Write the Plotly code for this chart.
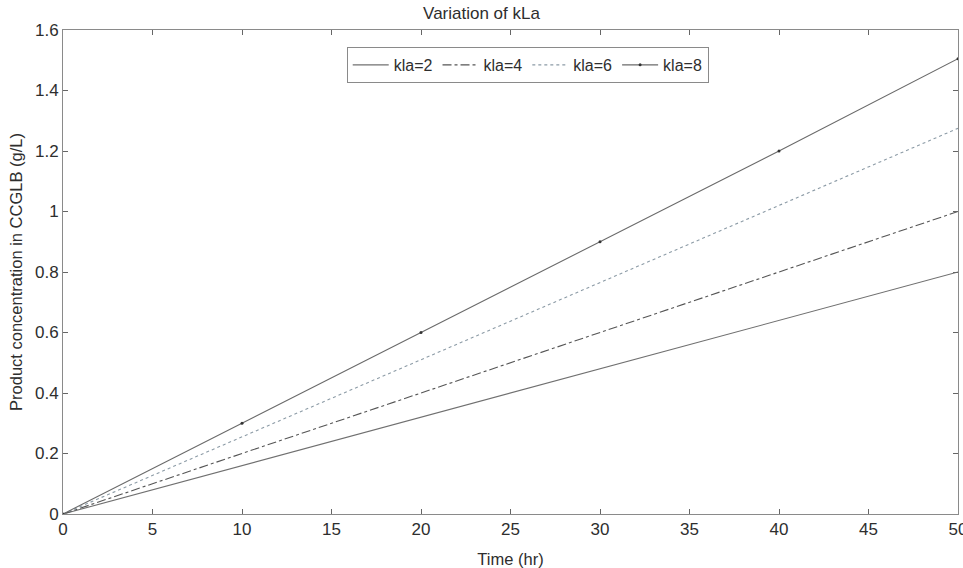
import plotly.graph_objects as go

# Time points (hr) and product concentration in CCGLB (g/L) for each kLa
time_hr = [0, 10, 20, 30, 40, 50]
kla2 = [0, 0.16, 0.32, 0.48, 0.64, 0.80]
kla4 = [0, 0.20, 0.40, 0.60, 0.80, 1.00]
kla6 = [0, 0.255, 0.51, 0.765, 1.02, 1.275]
kla8 = [0, 0.30, 0.60, 0.90, 1.20, 1.505]

x_ticks = [0, 5, 10, 15, 20, 25, 30, 35, 40, 45, 50]
y_ticks = [0, 0.2, 0.4, 0.6, 0.8, 1, 1.2, 1.4, 1.6]

font = "Liberation Sans, Arial, sans-serif"
text_color = "#2e2e2e"

fig = go.Figure()
fig.add_trace(go.Scatter(x=time_hr, y=kla2, name="kla=2", mode="lines",
                         line=dict(color="#707070", width=1.1, dash="solid")))
fig.add_trace(go.Scatter(x=time_hr, y=kla4, name="kla=4", mode="lines",
                         line=dict(color="#555555", width=1.1, dash="dashdot")))
fig.add_trace(go.Scatter(x=time_hr, y=kla6, name="kla=6", mode="lines",
                         line=dict(color="#8c9ba6", width=1.1, dash="dot")))
fig.add_trace(go.Scatter(x=time_hr, y=kla8, name="kla=8", mode="lines+markers",
                         line=dict(color="#6a6a6a", width=1.1, dash="solid"),
                         marker=dict(color="#333333", size=3, symbol="circle")))

axis_common = dict(
    showgrid=False, zeroline=False, showline=True, linecolor="#8a8a8a",
    linewidth=1, mirror="ticks", ticks="inside", ticklen=5, automargin=False,
    tickcolor="#666666", tickfont=dict(family=font, size=17, color=text_color),
)

fig.update_layout(
    width=963, height=568,
    margin=dict(l=63, r=5, t=30, b=54, autoexpand=False),
    paper_bgcolor="white", plot_bgcolor="white",
    title=dict(text="Variation of kLa", x=0.5, xanchor="center",
               y=1 - 13 / 568, yanchor="middle",
               font=dict(family=font, size=17, color=text_color)),
    xaxis=dict(range=[0, 50], tickvals=x_ticks, ticktext=[str(v) for v in x_ticks],
               ticklabeloverflow="allow",
               title=dict(text="Time (hr)", standoff=18,
                          font=dict(family=font, size=16.5, color=text_color)),
               **axis_common),
    yaxis=dict(range=[0, 1.6], tickvals=y_ticks, ticktext=[f"{v:g}" for v in y_ticks],
               title=dict(text="Product concentration in CCGLB (g/L)", standoff=8,
                          font=dict(family=font, size=16.5, color=text_color)),
               **axis_common),
    legend=dict(orientation="h", x=0.317, y=0.965, xanchor="left", yanchor="top",
                bgcolor="white", bordercolor="#8a8a8a", borderwidth=1,
                font=dict(family=font, size=16, color=text_color),
                itemwidth=36, tracegroupgap=0),
    showlegend=True,
)

fig.write_html("out.html")
